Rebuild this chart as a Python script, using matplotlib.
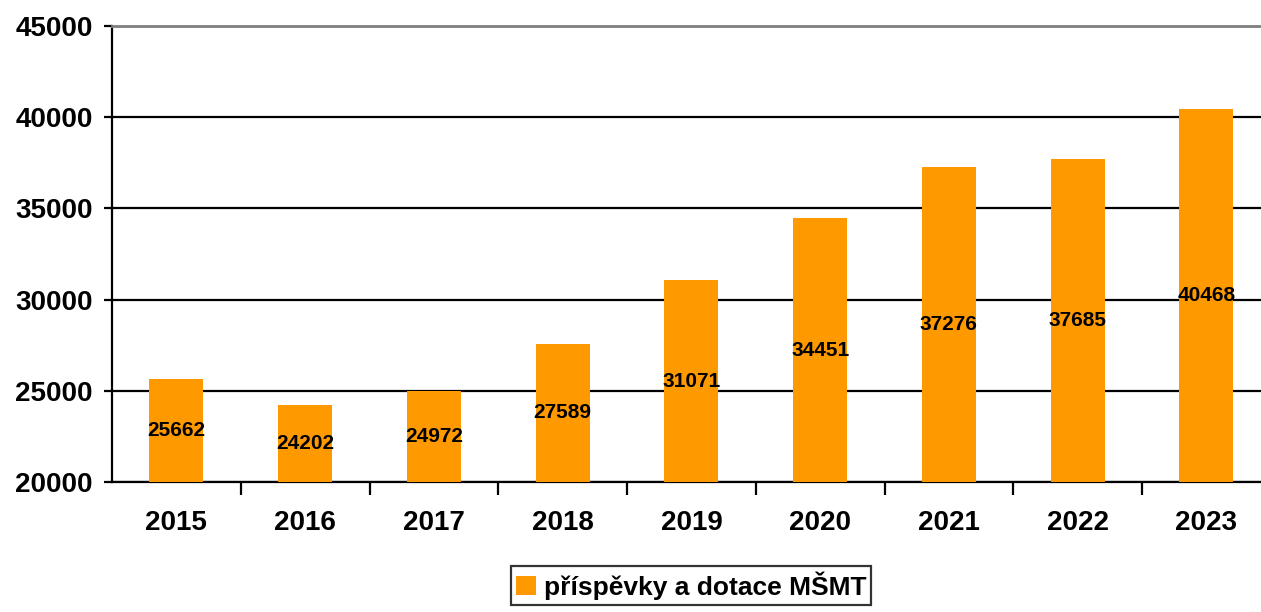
import matplotlib
matplotlib.use("Agg")
import matplotlib.pyplot as plt

# data
years = ["2015", "2016", "2017", "2018", "2019", "2020", "2021", "2022", "2023"]
values = [25662, 24202, 24972, 27589, 31071, 34451, 37276, 37685, 40468]
series_name = "příspěvky a dotace MŠMT"
y_ticks = [20000, 25000, 30000, 35000, 40000, 45000]

plt.rcParams["font.family"] = ["Liberation Sans", "DejaVu Sans"]
plt.rcParams["font.weight"] = "bold"

bar_color = "#FF9900"
y_min = 20000

fig = plt.figure(figsize=(12.61, 6.12), dpi=100)
ax = fig.add_axes([0.0888, 0.2124, 0.919, 0.7451])

x = list(range(len(years)))
ax.bar(x, [v - y_min for v in values], bottom=y_min, width=0.42,
       color=bar_color, label=series_name, zorder=3)

# labels in the middle of each bar
for xi, v in zip(x, values):
    ax.text(xi, (y_min + v) / 2, str(v), ha="center", va="center",
            fontsize=15, fontweight="bold", zorder=4)

ax.set_xlim(-0.5, len(years) - 0.5)
ax.set_ylim(20000, 45000)
ax.set_yticks(y_ticks)
ax.set_yticklabels([str(t) for t in y_ticks], fontsize=20, fontweight="bold")
ax.yaxis.grid(True, color="black", linewidth=1.6, zorder=1)

ax.set_xticks(x)
ax.set_xticklabels(years, fontsize=20, fontweight="bold")
ax.tick_params(axis="x", which="major", length=0, pad=20)
ax.set_xticks([i + 0.5 for i in x[:-1]], minor=True)
ax.tick_params(axis="x", which="minor", length=9, width=1.6, direction="out")
ax.tick_params(axis="y", length=6, width=1.6, pad=8)

for side in ["left", "bottom"]:
    ax.spines[side].set_linewidth(1.6)
ax.spines["right"].set_visible(False)
ax.spines["top"].set_color("#808080")
ax.spines["top"].set_linewidth(2)

leg = fig.legend(loc="upper center", bbox_to_anchor=(691 / 1261, 1 - 566 / 612),
                 frameon=True, fancybox=False, edgecolor="black",
                 handlelength=0.75, handleheight=0.75, handletextpad=0.3,
                 borderpad=0.2, borderaxespad=0,
                 prop={"weight": "bold", "size": 19})
leg.get_frame().set_linewidth(1.6)

fig.savefig("out.png", dpi=100)
